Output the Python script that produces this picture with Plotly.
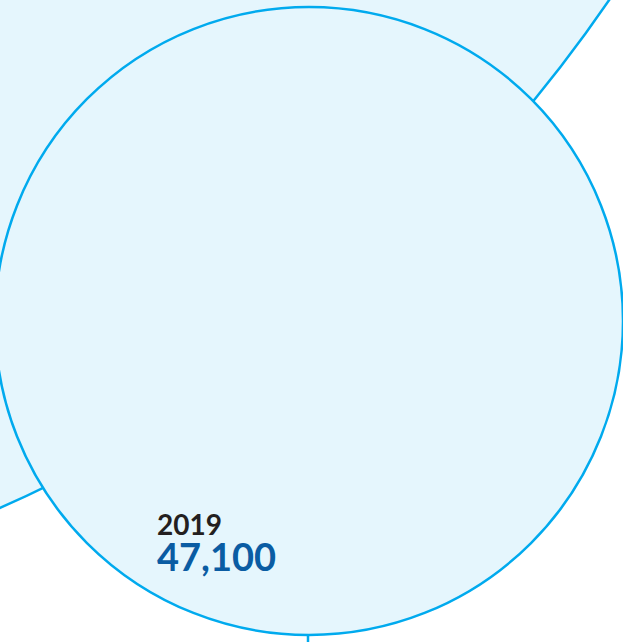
import math
import plotly.graph_objects as go

# Data
years = ["2019", ""]
values = [47100, 1021000]          # 2019 circle and larger (previous, partly visible) circle
labels = ["47,100", ""]

W, H = 623, 642
scale = 314 / math.sqrt(47100)      # px per sqrt(unit)

# layout positions (pixel space)
main_c = (309, 321)
big_dir = (-905, -1147)

radii = [scale * math.sqrt(v) for v in values]
d = math.hypot(*big_dir)
big_c = (main_c[0] + big_dir[0] / d * radii[1], main_c[1] + big_dir[1] / d * radii[1])

STROKE = "#00AAEE"
FILL = "#E5F6FD"
LW = 2.5

shapes = []
# big circle
shapes.append(dict(type="circle", xref="x", yref="y",
                   x0=big_c[0] - radii[1], x1=big_c[0] + radii[1],
                   y0=big_c[1] - radii[1], y1=big_c[1] + radii[1],
                   line=dict(color=STROKE, width=LW), fillcolor=FILL, layer="above"))
# connector line down from circle
shapes.append(dict(type="line", xref="x", yref="y",
                   x0=main_c[0] - 1, x1=main_c[0] - 1, y0=main_c[1], y1=H + 40,
                   line=dict(color=STROKE, width=LW), layer="above"))
# main circle
shapes.append(dict(type="circle", xref="x", yref="y",
                   x0=main_c[0] - radii[0], x1=main_c[0] + radii[0],
                   y0=main_c[1] - radii[0], y1=main_c[1] + radii[0],
                   line=dict(color=STROKE, width=LW), fillcolor=FILL, layer="above"))

fig = go.Figure()
fig.add_trace(go.Scatter(x=[0], y=[0], mode="markers", marker=dict(opacity=0),
                         hoverinfo="skip", showlegend=False))

label_text = ("<b>" + years[0] + "</b><br>"
              "<span style='font-size:38px;color:#0A5CA3'><b>" + labels[0] + "</b></span>")
fig.add_annotation(x=155, y=543, xref="x", yref="y", text=label_text,
                   showarrow=False, xanchor="left", yanchor="middle", align="left",
                   font=dict(family="Lato", size=28, color="#231F20"))

fig.update_layout(
    width=W, height=H,
    margin=dict(l=0, r=0, t=0, b=0),
    paper_bgcolor="white", plot_bgcolor="white",
    shapes=shapes,
    xaxis=dict(range=[0, W], visible=False, fixedrange=True),
    yaxis=dict(range=[H, 0], visible=False, fixedrange=True),
    showlegend=False,
)
fig.write_html("out.html", config={"displayModeBar": False},
               post_script="document.body.style.margin='0';document.body.style.overflow='hidden';")
